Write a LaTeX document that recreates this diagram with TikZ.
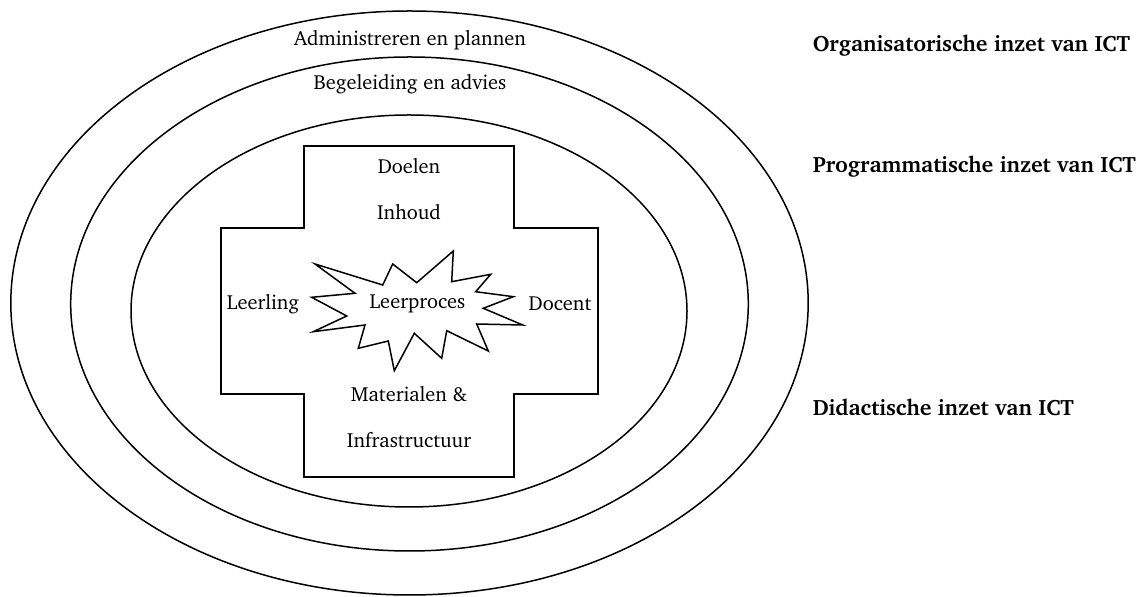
\documentclass[tikz,border=0pt]{standalone}
\usepackage[T1]{fontenc}
\usepackage{charter}
\usetikzlibrary{positioning}

\begin{document}
\begin{tikzpicture}[x=0.5pt,y=-0.5pt,line width=0.75pt,
	lbl/.style={inner sep=0pt,font=\fontsize{10.2}{12}\selectfont},
	level/.style={anchor=west,inner sep=0pt,font=\fontsize{11.1}{13}\selectfont\bfseries}]
	\useasboundingbox (0,0) rectangle (1140,597);
	% de drie schillen
	\draw (409.5,303) ellipse (398.7 and 292);
	\draw (409.5,304) ellipse (338.8 and 247);
	\draw (409,311) ellipse (278 and 196);
	% kruis
	\draw (304,146) -- (514,146) -- (514,228) -- (598,228) -- (598,394) -- (514,394)
		-- (514,477) -- (304,477) -- (304,394) -- (221,394) -- (221,228) -- (304,228) -- cycle;
	% ster
	\draw (315,264) -- (382.7,285) -- (392.7,264) -- (416.7,282.7) -- (453.3,251)
		-- (451.7,281.7) -- (490.7,274.3) -- (475.7,291.7) -- (513.3,296.7)
		-- (483.3,308.3) -- (522.7,325) -- (476.7,324) -- (488.3,351)
		-- (446.7,330.7) -- (441.7,358.3) -- (414.3,333.3) -- (394.3,370.7)
		-- (388.3,341) -- (358.3,348.3) -- (365,325) -- (313.3,331.7)
		-- (346.7,316) -- (311.7,297.3) -- (355,293.3) -- cycle;
	\node[lbl] (admin) at (410,40) {Administreren en plannen};
	\node[lbl] (begel) at (410,84) {Begeleiding en advies};
	\node[lbl] (doelen) at (409,166) {Doelen};
	\node[lbl] (inhoud) at (409,212) {Inhoud};
	\node[lbl] (proces) at (417.5,304) {Leerproces};
	\node[lbl] (leerling) at (263,304) {Leerling};
	\node[lbl] (docent) at (560,304) {Docent};
	\node[lbl] (materialen) at (409,394) {Materialen \&};
	\node[lbl] (infra) at (409,440) {Infrastructuur};
	\node[level] (org) at (812,45) {Organisatorische inzet van ICT};
	\node[level] (prog) at (812,166) {Programmatische inzet van ICT};
	\node[level] (did) at (812,407) {Didactische inzet van ICT};
\end{tikzpicture}
\end{document}
